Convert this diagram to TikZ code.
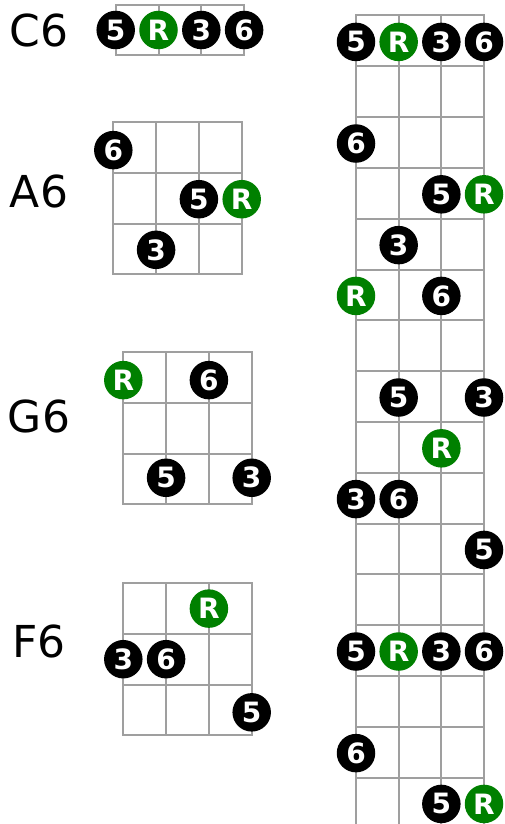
\documentclass[tikz,border=0pt]{standalone}
\usepackage{fontspec}
\setmainfont{DejaVu Sans}

\begin{document}
\begin{tikzpicture}[x=1pt, y=-1pt,
	fretline/.style={draw=gray!75, line width=2pt, line cap=rect},
	tone/.style={circle, fill=black, text=white, minimum size=38.5pt, inner sep=0pt, font=\fontsize{28}{28}\selectfont\bfseries},
	root/.style={tone, fill=green!50!black},
	chordname/.style={font=\fontsize{44}{44}\selectfont}]
	\useasboundingbox (0,0) rectangle (504,824);
	% chord names
	\node[chordname] (nameC) at (39,30) {C6};
	\node[chordname] (nameA) at (39,191) {A6};
	\node[chordname] (nameG) at (39,416) {G6};
	\node[chordname] (nameF) at (39,641) {F6};
	% C6
	\begin{scope}[shift={(115.7,4.7)}, x=42.8pt, y=-50.6pt]
		\foreach \s in {0,...,3} \draw[fretline] (\s,0) -- (\s,1);
		\foreach \f in {0,1} \draw[fretline] (0,\f) -- (3,\f);
		\node[tone] (c5) at (0,0.5) {5};
		\node[root] (cR) at (1,0.5) {R};
		\node[tone] (c3) at (2,0.5) {3};
		\node[tone] (c6) at (3,0.5) {6};
	\end{scope}
	% A6
	\begin{scope}[shift={(113.3,122.3)}, x=42.8pt, y=-50.6pt]
		\foreach \s in {0,...,3} \draw[fretline] (\s,0) -- (\s,3);
		\foreach \f in {0,...,3} \draw[fretline] (0,\f) -- (3,\f);
		\node[tone] (a6) at (0,0.55) {6};
		\node[tone] (a5) at (2,1.52) {5};
		\node[root] (aR) at (3,1.52) {R};
		\node[tone] (a3) at (1,2.52) {3};
	\end{scope}
	% G6
	\begin{scope}[shift={(123.3,352.3)}, x=42.8pt, y=-50.6pt]
		\foreach \s in {0,...,3} \draw[fretline] (\s,0) -- (\s,3);
		\foreach \f in {0,...,3} \draw[fretline] (0,\f) -- (3,\f);
		\node[root] (gR) at (0,0.55) {R};
		\node[tone] (g6) at (2,0.55) {6};
		\node[tone] (g5) at (1,2.48) {5};
		\node[tone] (g3) at (3,2.48) {3};
	\end{scope}
	% F6
	\begin{scope}[shift={(123.3,583.3)}, x=42.8pt, y=-50.6pt]
		\foreach \s in {0,...,3} \draw[fretline] (\s,0) -- (\s,3);
		\foreach \f in {0,...,3} \draw[fretline] (0,\f) -- (3,\f);
		\node[root] (fR) at (2,0.5) {R};
		\node[tone] (f3) at (0,1.5) {3};
		\node[tone] (f6) at (1,1.5) {6};
		\node[tone] (f5) at (3,2.55) {5};
	\end{scope}
	% whole neck
	\begin{scope}[shift={(356,15.5)}, x=42.67pt, y=-50.8pt]
		\foreach \s in {0,...,3} \draw[fretline] (\s,0) -- (\s,16);
		\foreach \f in {0,...,15} \draw[fretline] (0,\f) -- (3,\f);
		\foreach \s/\f/\t in {0/0/5, 2/0/3, 3/0/6, 0/2/6, 2/3/5, 1/4/3, 2/5/6,
			1/7/5, 3/7/3, 0/9/3, 1/9/6, 3/10/5, 0/12/5, 2/12/3, 3/12/6, 0/14/6, 2/15/5}
			\node[tone] (n\s-\f) at (\s,\f+0.52) {\t};
		\foreach \s/\f in {1/0, 3/3, 0/5, 2/8, 1/12, 3/15}
			\node[root] (r\s-\f) at (\s,\f+0.52) {R};
	\end{scope}
\end{tikzpicture}
\end{document}
